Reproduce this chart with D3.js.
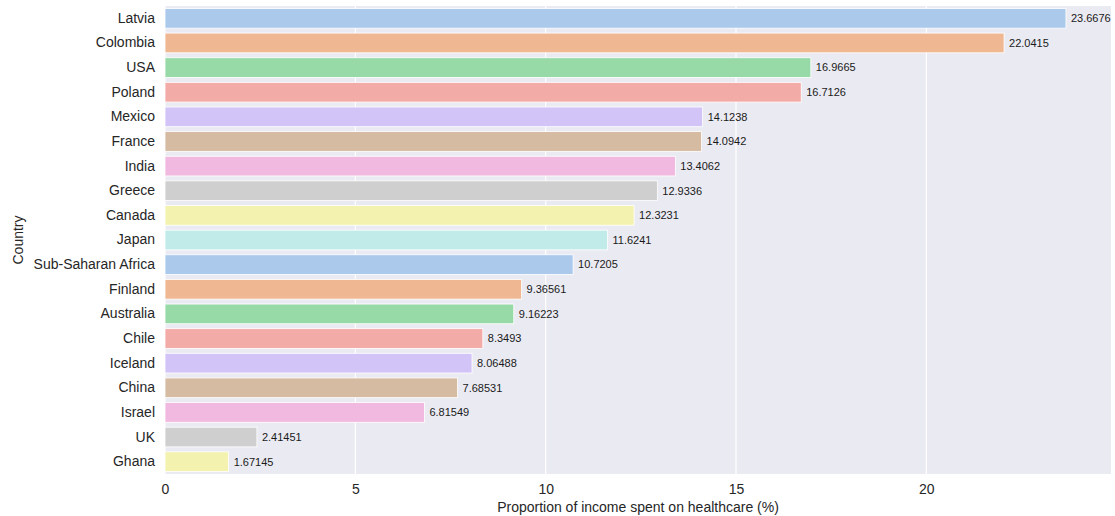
<!DOCTYPE html>
<html lang="en">
<head>
    <meta charset="UTF-8">
    <title>Healthcare spending bar chart</title>
    <script src="https://d3js.org/d3.v7.min.js"></script>
    <style>
        body { margin: 0; background: #fff; font-family: "Liberation Sans", Arial, sans-serif; }
        .axis path, .axis line { display: none; }
        .axis text { font-size: 14px; fill: #262626; font-family: "Liberation Sans", Arial, sans-serif; }
        .label { font-size: 14px; fill: #262626; }
        .value { font-size: 11px; fill: #1a1a1a; }
    </style>
</head>
<body>
    <div id="chart-container"></div>
    <script>
        // values
        const countries = ["Latvia", "Colombia", "USA", "Poland", "Mexico", "France", "India", "Greece",
            "Canada", "Japan", "Sub-Saharan Africa", "Finland", "Australia", "Chile", "Iceland",
            "China", "Israel", "UK", "Ghana"];
        const values = [23.6676, 22.0415, 16.9665, 16.7126, 14.1238, 14.0942, 13.4062, 12.9336,
            12.3231, 11.6241, 10.7205, 9.36561, 9.16223, 8.3493, 8.06488, 7.68531, 6.81549, 2.41451, 1.67145];
        const xTicks = [0, 5, 10, 15, 20];

        // seaborn pastel, desaturated like barplot does
        const pastel = ["#a1c9f4", "#ffb482", "#8de5a1", "#ff9f9b", "#d0bbff",
            "#debb9b", "#fab0e4", "#cfcfcf", "#fffea3", "#b9f2f0"];
        const palette = pastel.map(c => {
            const h = d3.hsl(c);
            h.s *= 0.75;
            return h.formatHex();
        });

        const data = countries.map((c, i) => ({ country: c, value: values[i] }));

        const containerWidth = 1115;
        const containerHeight = 516;
        const margins = { top: 6, right: 4, bottom: 42, left: 165 };
        const width = containerWidth - margins.left - margins.right;
        const height = containerHeight - margins.top - margins.bottom;

        const svg = d3.select("#chart-container")
            .append("svg")
            .attr("width", containerWidth)
            .attr("height", containerHeight)
            .append("g")
            .attr("transform", `translate(${margins.left},${margins.top})`);

        const x = d3.scaleLinear()
            .domain([0, d3.max(values) * 1.05])
            .range([0, width]);

        const y = d3.scaleBand()
            .domain(countries)
            .range([0, height])
            .paddingInner(0.2)
            .paddingOuter(0.1);

        // background
        svg.append("rect")
            .attr("width", width)
            .attr("height", height)
            .attr("fill", "#eaeaf2");

        // grid
        svg.selectAll(".grid")
            .data(xTicks)
            .enter()
            .append("line")
            .attr("x1", d => x(d))
            .attr("x2", d => x(d))
            .attr("y1", 0)
            .attr("y2", height)
            .attr("stroke", "#fff")
            .attr("stroke-width", 1.2);

        // bars
        svg.selectAll(".bar")
            .data(data)
            .enter()
            .append("rect")
            .attr("class", "bar")
            .attr("x", 0)
            .attr("y", d => y(d.country))
            .attr("width", d => x(d.value))
            .attr("height", y.bandwidth())
            .attr("fill", (d, i) => palette[i % palette.length])
            .attr("stroke", "#fff")
            .attr("stroke-width", 0.8);

        // value labels
        svg.selectAll(".value")
            .data(data)
            .enter()
            .append("text")
            .attr("class", "value")
            .attr("x", d => x(d.value) + 5)
            .attr("y", d => y(d.country) + y.bandwidth() / 2)
            .attr("dy", "0.35em")
            .text(d => d.value);

        // axes
        svg.append("g")
            .attr("class", "axis axis-x")
            .attr("transform", `translate(0, ${height})`)
            .call(d3.axisBottom(x).tickValues(xTicks).tickFormat(d3.format("d")).tickSize(0).tickPadding(10));

        svg.append("g")
            .attr("class", "axis axis-y")
            .call(d3.axisLeft(y).tickSize(0).tickPadding(10));

        svg.append("text")
            .attr("class", "label")
            .attr("x", width / 2)
            .attr("y", height + 38)
            .attr("text-anchor", "middle")
            .text("Proportion of income spent on healthcare (%)");

        svg.append("text")
            .attr("class", "label")
            .attr("x", -height / 2)
            .attr("y", -142)
            .attr("transform", "rotate(-90)")
            .attr("text-anchor", "middle")
            .text("Country");
    </script>
</body>
</html>
